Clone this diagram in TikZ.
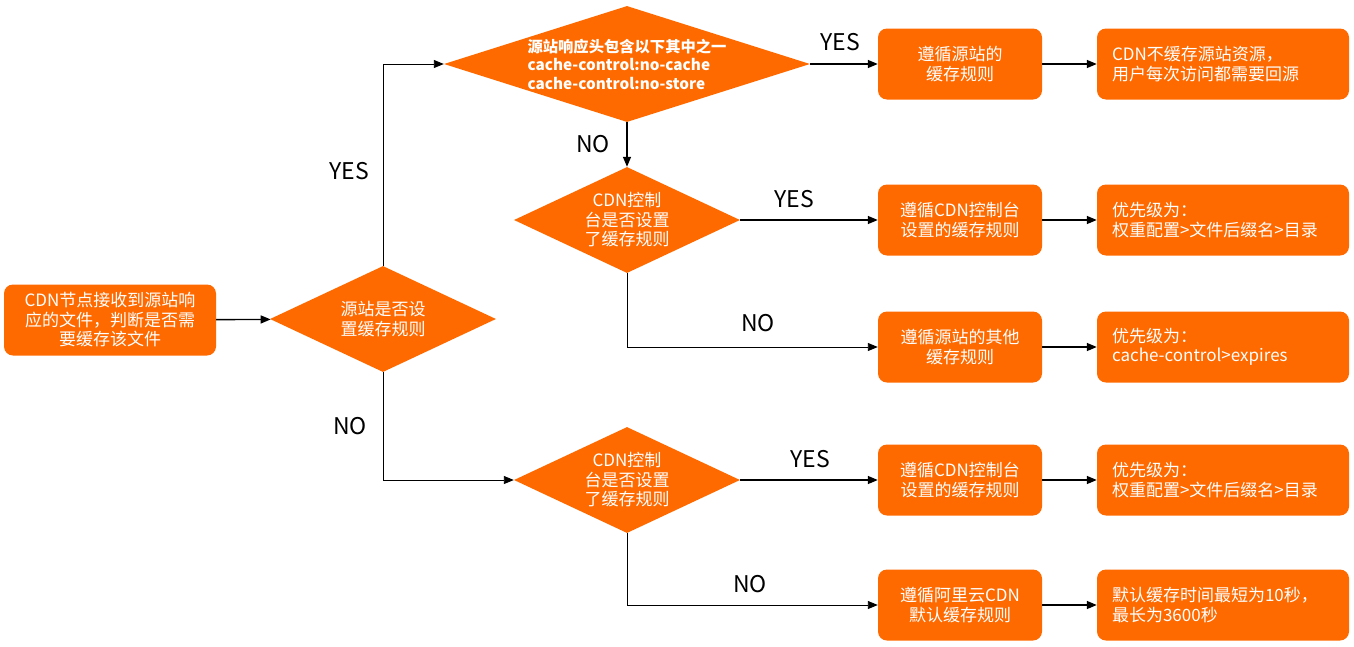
\documentclass[tikz,border=0pt]{standalone}
\usepackage{fontspec}
\newfontfamily\cjk{Noto Sans CJK SC}
\usetikzlibrary{shapes.geometric,arrows.meta}
\definecolor{org}{HTML}{FF6A00}
\begin{document}
\begin{tikzpicture}[x=1pt,y=-1pt,
  box/.style={fill=org, rounded corners=9pt, minimum width=164pt, minimum height=71pt, inner sep=0pt, text=white, font=\cjk\fontsize{17}{19.5}\selectfont, align=center},
  wbox/.style={box, minimum width=252pt, text width=222pt, align=left},
  dia/.style={diamond, fill=org, inner sep=0pt, minimum width=226pt, minimum height=106pt},
  dtext/.style={text=white, font=\cjk\fontsize{17}{19.5}\selectfont, align=center, inner sep=0pt},
  arr/.style={-{Triangle[length=10pt,width=8pt]}, line width=1.4pt},
  elb/.style={-{Triangle[length=10pt,width=8pt]}, line width=0.9pt},
  lbl/.style={font=\cjk\fontsize{23}{26}\selectfont, text=black}
]
\useasboundingbox (0,0) rectangle (1354,646);

\node[box, minimum width=212pt] (start) at (110,320) {CDN节点接收到源站响\\应的文件，判断是否需\\要缓存该文件};
\node[dia, label={[dtext]center:{源站是否设\\置缓存规则}}] (d1) at (383,319) {};
\node[dia, minimum width=366pt, minimum height=116pt,
  label={[dtext, align=left, font=\cjk\bfseries\fontsize{15.3}{18.5}\selectfont]center:{源站响应头包含以下其中之一\\cache-control:no-cache\\cache-control:no-store}}] (d2) at (627,64) {};
\node[dia, label={[dtext]center:{CDN控制\\台是否设置\\了缓存规则}}] (d3) at (627,220) {};
\node[dia, label={[dtext]center:{CDN控制\\台是否设置\\了缓存规则}}] (d4) at (627,480) {};

\node[box] (a1) at (960,64) {遵循源站的\\缓存规则};
\node[wbox] (a2) at (1223,64) {CDN不缓存源站资源，\\用户每次访问都需要回源};
\node[box] (b1) at (960,220) {遵循CDN控制台\\设置的缓存规则};
\node[wbox] (b2) at (1223,220) {优先级为：\\权重配置>文件后缀名>目录};
\node[box] (c1) at (960,347) {遵循源站的其他\\缓存规则};
\node[wbox] (c2) at (1223,347) {优先级为：\\cache-control>expires};
\node[box] (e1) at (960,480) {遵循CDN控制台\\设置的缓存规则};
\node[wbox] (e2) at (1223,480) {优先级为：\\权重配置>文件后缀名>目录};
\node[box] (f1) at (960,605) {遵循阿里云CDN\\默认缓存规则};
\node[wbox] (f2) at (1223,605) {默认缓存时间最短为10秒，\\最长为3600秒};

\draw[arr] (start) -- (d1);
\draw[elb] (d1.north) |- (d2.west);
\draw[arr] (d2.east) -- (a1.west);
\draw[arr] (a1) -- (a2);
\draw[arr] (d2.south) -- (d3.north);
\draw[arr] (d3.east) -- (b1.west);
\draw[arr] (b1) -- (b2);
\draw[elb] (d3.south) |- (c1.west);
\draw[arr] (c1) -- (c2);
\draw[elb] (d1.south) |- (d4.west);
\draw[arr] (d4.east) -- (e1.west);
\draw[arr] (e1) -- (e2);
\draw[elb] (d4.south) |- (f1.west);
\draw[arr] (f1) -- (f2);

\node[lbl] (y1) at (349,171) {YES};
\node[lbl] (y2) at (840,42) {YES};
\node[lbl] (n1) at (593,144) {NO};
\node[lbl] (y3) at (794,199) {YES};
\node[lbl] (n2) at (758,323) {NO};
\node[lbl] (n3) at (350,426) {NO};
\node[lbl] (y4) at (810,459) {YES};
\node[lbl] (n4) at (750,584) {NO};
\end{tikzpicture}
\end{document}
